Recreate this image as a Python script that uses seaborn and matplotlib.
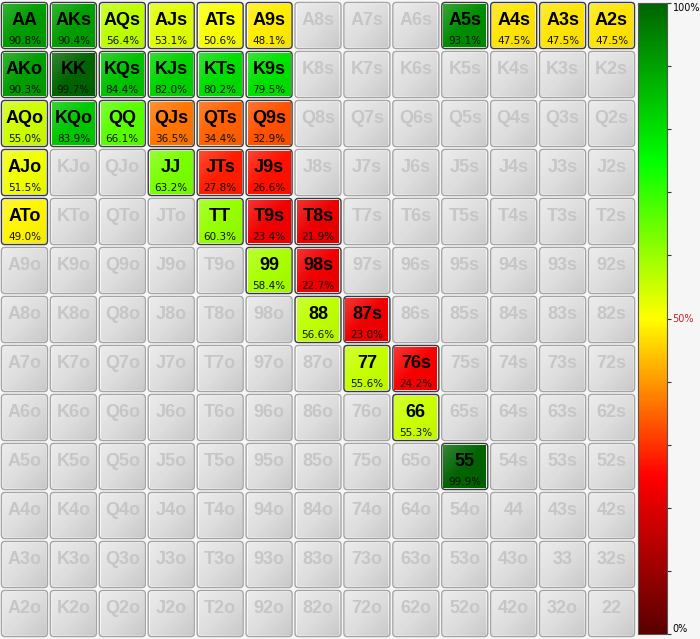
import numpy as np
import pandas as pd
import matplotlib
matplotlib.use("Agg")
import matplotlib.pyplot as plt
import seaborn as sns
from matplotlib.colors import LinearSegmentedColormap, ListedColormap
from matplotlib.patches import FancyBboxPatch

# 牌面顺序
ranks = list("AKQJT98765432")

# 有数据的手牌及其百分比
played_hands = [
    "AA", "AKs", "AQs", "AJs", "ATs", "A9s", "A5s", "A4s", "A3s", "A2s",
    "AKo", "KK", "KQs", "KJs", "KTs", "K9s",
    "AQo", "KQo", "QQ", "QJs", "QTs", "Q9s",
    "AJo", "JJ", "JTs", "J9s",
    "ATo", "TT", "T9s", "T8s",
    "99", "98s",
    "88", "87s",
    "77", "76s",
    "66",
    "55",
]
equity_pct = [
    90.8, 90.4, 56.4, 53.1, 50.6, 48.1, 93.1, 47.5, 47.5, 47.5,
    90.3, 99.7, 84.4, 82.0, 80.2, 79.5,
    55.0, 83.9, 66.1, 36.5, 34.4, 32.9,
    51.5, 63.2, 27.8, 26.6,
    49.0, 60.3, 23.4, 21.9,
    58.4, 22.7,
    56.6, 23.0,
    55.6, 24.2,
    55.3,
    99.9,
]

cbar_ticks = list(range(0, 101, 10))
cbar_labels = {0: "0%", 50: "50%", 100: "100%"}


def hand_name(i, j):
    if i == j:
        return ranks[i] + ranks[j]
    if i < j:
        return ranks[i] + ranks[j] + "s"
    return ranks[j] + ranks[i] + "o"


n = len(ranks)
names = np.array([[hand_name(i, j) for j in range(n)] for i in range(n)])
lookup = dict(zip(played_hands, equity_pct))
values = pd.DataFrame(
    [[lookup.get(names[i, j], np.nan) for j in range(n)] for i in range(n)],
    index=ranks, columns=ranks,
)

cmap = LinearSegmentedColormap.from_list(
    "equity",
    [(0.0, "#5a0000"), (0.25, "#ff0000"), (0.5, "#ffff00"),
     (0.75, "#00ff00"), (1.0, "#006400")],
)

# 单元格的光泽渐变（左上亮，右下暗）
g = np.linspace(0, 1, 32)
t = (g[None, :] + g[:, None]) / 2
shine = np.zeros((32, 32, 4))
light = np.clip(1 - 2 * t, 0, 1)
dark = np.clip(2 * t - 1, 0, 1)
shine[..., :3] = np.where(light[..., None] > 0, 1.0, 0.0)
shine[..., 3] = 0.45 * light + 0.10 * dark

bg = "#f6f6f6"
fig = plt.figure(figsize=(7.0, 6.39), dpi=100, facecolor=bg)
ax = fig.add_axes([0.0, 1 / 639, 636 / 700, 637 / 639])
cax = fig.add_axes([638 / 700, 5 / 639, 29 / 700, 631 / 639])

# 灰色底层
sns.heatmap(
    values.isna().astype(float), ax=ax, cmap=ListedColormap(["#dedede"]),
    cbar=False, linewidths=3, linecolor=bg, xticklabels=False, yticklabels=False,
)
# 着色层
sns.heatmap(
    values, ax=ax, cmap=cmap, vmin=0, vmax=100, mask=values.isna(),
    linewidths=3, linecolor=bg, cbar_ax=cax,
    xticklabels=False, yticklabels=False,
)

gap = 0.03
for i in range(n):
    for j in range(n):
        v = values.iat[i, j]
        played = not np.isnan(v)
        box = FancyBboxPatch(
            (j + gap, i + gap), 1 - 2 * gap, 1 - 2 * gap,
            boxstyle="round,pad=0,rounding_size=0.07",
            facecolor="none", edgecolor="#3a3a3a" if played else "#a4a4a4",
            linewidth=1.0, zorder=3,
        )
        ax.add_patch(box)
        img = ax.imshow(shine if not played else shine * [1, 1, 1, 0.5],
                        extent=(j + gap, j + 1 - gap, i + 1 - gap, i + gap),
                        interpolation="bilinear", zorder=2, aspect="auto")
        img.set_clip_path(box)
        ax.text(j + 0.5, i + 0.39, names[i, j], ha="center", va="center",
                fontsize=13, fontweight="bold", family="Liberation Sans",
                color="#000000" if played else "#c6c6c6", zorder=4)
        if played:
            ax.text(j + 0.5, i + 0.82, f"{v:.1f}%", ha="center", va="center",
                    fontsize=7.5, family="DejaVu Sans", color="#111111",
                    zorder=4)

ax.set_xlim(0, n)
ax.set_ylim(n, 0)
ax.axis("off")

# 颜色条
cb = ax.collections[-1].colorbar
cb.set_ticks(cbar_ticks)
cb.set_ticklabels([cbar_labels.get(t, "") for t in cbar_ticks])
cb.outline.set_edgecolor("#555555")
cb.outline.set_linewidth(0.8)
cax.tick_params(length=3, width=0.8, color="#333333", labelsize=7, pad=1)
for t, lab in zip(cbar_ticks, cax.get_yticklabels()):
    lab.set_family("DejaVu Sans")
    if t == 50:
        lab.set_color("#cc2020")
    elif t == 100:
        lab.set_va("top")
    elif t == 0:
        lab.set_va("bottom")

fig.savefig("out.png", dpi=100, facecolor=bg)
